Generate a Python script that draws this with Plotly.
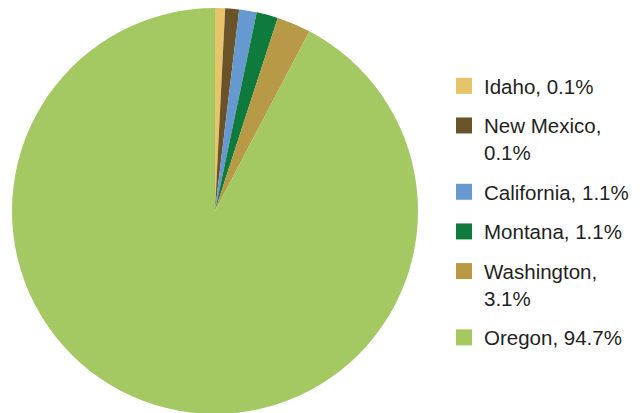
import plotly.graph_objects as go

# states in drawing order (clockwise from 12 o'clock)
states = ["Idaho", "New Mexico", "California", "Montana", "Washington", "Oregon"]
pct_labels = ["0.1%", "0.1%", "1.1%", "1.1%", "3.1%", "94.7%"]
# slice sizes as drawn in the picture
shares = [0.8, 1.1, 1.4, 1.7, 2.7, 92.3]
colors = ["#E6C46A", "#6A5229", "#6699CF", "#0E7A3B", "#B89A46", "#A4C862"]
# legend text, wrapped like the original
legend_text = ["Idaho, 0.1%", "New Mexico,<br>0.1%", "California, 1.1%",
               "Montana, 1.1%", "Washington,<br>3.1%", "Oregon, 94.7%"]

fig = go.Figure()
fig.add_trace(go.Pie(labels=states, values=shares, sort=False, direction="clockwise",
                     rotation=0, textinfo="none", showlegend=False,
                     marker=dict(colors=colors, line=dict(width=0)),
                     domain=dict(x=[4/641, 410/641], y=[7/413, 1])))

# legend entries (square swatches)
for name, txt, c in zip(states, legend_text, colors):
    fig.add_trace(go.Scatter(x=[None], y=[None], mode="markers", name=txt,
                             legendgroup=name,
                             marker=dict(symbol="square", size=16, color=c)))

fig.update_layout(width=641, height=413, margin=dict(l=0, r=0, t=0, b=0),
                  paper_bgcolor="white", plot_bgcolor="white",
                  font=dict(family="Liberation Sans, Arial, sans-serif", color="#231F20"),
                  xaxis=dict(visible=False), yaxis=dict(visible=False),
                  legend=dict(x=436/641, xanchor="left", y=1-58/413, yanchor="top",
                              font=dict(size=20.5), traceorder="grouped",
                              tracegroupgap=10, valign="top", itemwidth=30,
                              bgcolor="rgba(0,0,0,0)"))

fig.write_html("out.html")
